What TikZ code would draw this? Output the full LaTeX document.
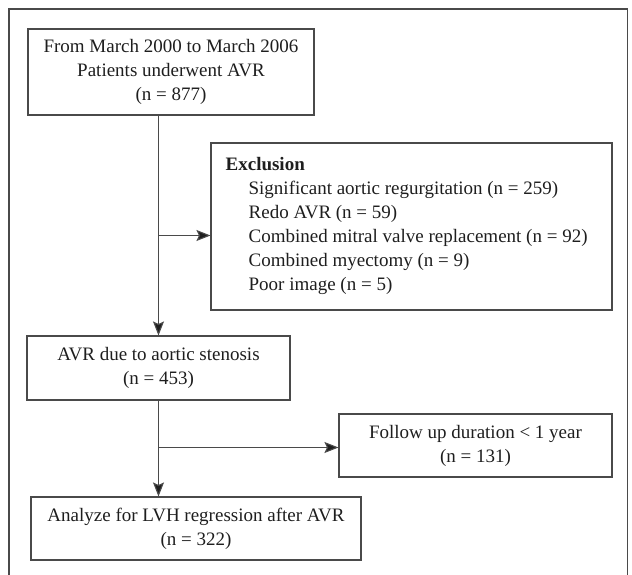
\documentclass[tikz,border=0pt]{standalone}
\usepackage{fontspec}
\setmainfont{Liberation Serif}
\usetikzlibrary{arrows.meta,calc}
\definecolor{boxline}{HTML}{4A4A4A}
\definecolor{txt}{HTML}{1E1E1E}
\tikzset{
  flowbox/.style={draw=boxline, line width=1.1pt, inner sep=0pt, align=center,
    text=txt, font=\fontsize{19}{24}\selectfont},
  plaintext/.style={inner sep=0pt, align=left, text=txt, font=\fontsize{19}{24}\selectfont},
  conn/.style={draw=boxline, line width=1.1pt,
    -{Stealth[length=14pt,width=11pt,inset=2.5pt,fill=txt]}},
}
\begin{document}
\begin{tikzpicture}[x=1pt,y=-1pt]
\useasboundingbox (0,0) rectangle (632,575);
% outer frame
\draw[boxline, line width=1.1pt] (9,580) -- (9,9) -- (627.5,9) -- (627.5,580);

\node[flowbox, minimum width=286pt, minimum height=86pt] (start) at (171,72)
  {From March 2000 to March 2006\\Patients underwent AVR\\(n = 877)};

\node[flowbox, minimum width=401pt, minimum height=167pt] (excl) at (411.5,226.5) {};
\node[plaintext, anchor=north west] (excltext) at ($(excl.north west)+(15,15)$)
  {\textbf{Exclusion}\\
   \hspace*{23pt}Significant aortic regurgitation (n = 259)\\
   \hspace*{23pt}Redo AVR (n = 59)\\
   \hspace*{23pt}Combined mitral valve replacement (n = 92)\\
   \hspace*{23pt}Combined myectomy (n = 9)\\
   \hspace*{23pt}Poor image (n = 5)};

\node[flowbox, minimum width=263pt, minimum height=64pt] (as) at (158.5,368)
  {AVR due to aortic stenosis\\(n = 453)};

\node[flowbox, minimum width=273pt, minimum height=63pt] (fu) at (475.5,445.5)
  {Follow up duration < 1 year\\(n = 131)};

\node[flowbox, minimum width=330pt, minimum height=63pt] (lvh) at (196,528.5)
  {Analyze for LVH regression after AVR\\(n = 322)};

\coordinate (j1) at (158.5,235.5);
\coordinate (j2) at (158.5,447.5);

\draw[conn] (start.south -| as.north) -- (as.north);
\draw[conn] (j1) -- (j1 -| excl.west);
\draw[conn] (as.south) -- (as.south |- lvh.north);
\draw[conn] (j2) -- (j2 -| fu.west);
\end{tikzpicture}
\end{document}
